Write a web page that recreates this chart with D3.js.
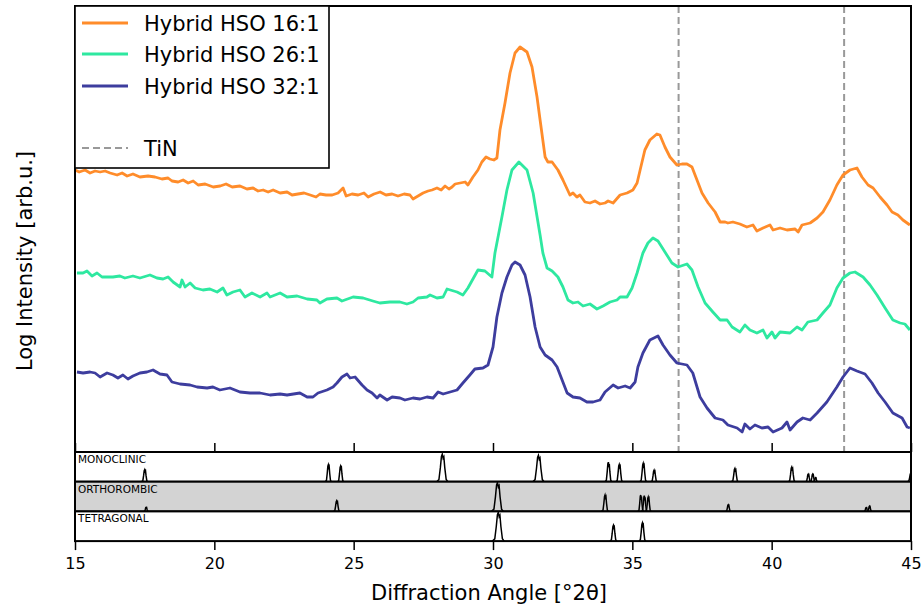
<!DOCTYPE html>
<html>
<head>
<meta charset="utf-8">
<script src="https://cdn.jsdelivr.net/npm/d3@7"></script>
<style>
  body { margin: 0; background: #fff; }
  text { font-family: "DejaVu Sans", sans-serif; fill: #000; }
</style>
</head>
<body>
<div class="graph"></div>
<script>
// [2theta, log intensity (arb.u., offset per sample)]
let hso16 = [
  [15.00,282],[15.15,280],[15.36,282],[15.54,279],[15.72,281],[15.90,280],[16.08,281],[16.26,279],[16.51,277],[16.69,279],
  [16.87,276],[17.08,278],[17.33,275],[17.62,276],[17.87,275],[18.12,273],[18.34,274],[18.48,271],[18.70,270],[18.88,272],
  [19.06,269],[19.24,271],[19.42,267],[19.67,268],[19.96,265],[20.21,266],[20.42,268],[20.64,265],[20.92,266],[21.17,263],
  [21.39,264],[21.57,261],[21.75,262],[21.93,260],[22.11,262],[22.36,259],[22.61,260],[22.79,257],[23.00,258],[23.22,259],
  [23.44,257],[23.65,255],[23.79,258],[24.01,257],[24.23,257],[24.44,259],[24.62,264],[24.73,256],[24.94,258],[25.16,257],
  [25.37,259],[25.52,255],[25.73,258],[25.95,260],[26.16,257],[26.38,258],[26.59,256],[26.81,258],[27.02,257],[27.13,253],
  [27.31,256],[27.49,259],[27.67,261],[27.81,262],[27.99,264],[28.14,262],[28.28,266],[28.42,263],[28.53,265],[28.64,268],
  [28.82,269],[29.00,270],[29.10,267],[29.28,275],[29.46,282],[29.60,290],[29.75,295],[29.89,293],[30.03,292],[30.14,294],
  [30.25,322],[30.43,349],[30.61,379],[30.79,399],[30.97,405],[31.22,400],[31.40,385],[31.58,355],[31.69,332],[31.87,295],
  [31.97,290],[32.12,290],[32.33,282],[32.51,272],[32.76,257],[32.87,259],[33.01,255],[33.12,257],[33.30,250],[33.48,249],
  [33.66,251],[33.84,248],[34.02,249],[34.13,251],[34.31,249],[34.56,257],[34.81,259],[35.02,262],[35.17,269],[35.28,282],
  [35.45,302],[35.63,312],[35.88,318],[35.99,317],[36.17,305],[36.35,295],[36.60,287],[36.78,288],[36.96,288],[37.14,285],
  [37.32,272],[37.50,259],[37.72,249],[37.97,240],[38.15,230],[38.33,230],[38.43,229],[38.61,230],[38.86,228],[39.11,225],
  [39.33,227],[39.47,221],[39.69,224],[39.94,227],[40.05,222],[40.30,224],[40.55,222],[40.84,223],[40.95,220],[41.09,227],
  [41.38,229],[41.63,234],[41.84,240],[42.09,252],[42.34,267],[42.56,277],[42.81,282],[43.06,284],[43.24,275],[43.46,267],
  [43.64,264],[43.89,255],[44.14,247],[44.32,240],[44.53,237],[44.71,232],[44.96,227]
]

let hso26 = [
  [15.07,179],[15.29,179],[15.43,181],[15.61,176],[15.79,179],[15.97,175],[16.36,175],[16.61,176],[16.79,174],[17.08,176],
  [17.33,174],[17.69,177],[17.94,174],[18.16,173],[18.34,175],[18.52,170],[18.77,165],[18.84,172],[18.95,165],[19.13,169],
  [19.31,164],[19.59,162],[19.84,163],[20.10,160],[20.31,164],[20.45,157],[20.67,160],[20.92,162],[21.10,155],[21.35,159],
  [21.64,155],[21.89,159],[22.00,155],[22.36,159],[22.61,155],[22.97,156],[23.33,153],[23.68,152],[23.79,149],[24.04,153],
  [24.40,154],[24.58,151],[24.98,155],[25.34,154],[25.69,151],[25.94,149],[26.30,150],[26.66,150],[26.91,148],[27.13,150],
  [27.31,154],[27.63,155],[27.74,157],[27.99,154],[28.21,155],[28.35,163],[28.71,160],[28.92,157],[29.10,164],[29.46,182],
  [29.71,181],[29.96,175],[30.07,199],[30.32,235],[30.50,262],[30.68,282],[30.93,290],[31.22,282],[31.44,259],[31.69,217],
  [31.79,199],[31.94,184],[32.12,181],[32.33,175],[32.51,165],[32.69,152],[32.87,149],[33.05,150],[33.23,146],[33.48,148],
  [33.73,143],[33.95,146],[34.20,150],[34.45,152],[34.56,155],[34.81,155],[34.99,164],[35.17,179],[35.38,199],[35.56,209],
  [35.74,214],[35.92,211],[36.17,200],[36.42,189],[36.64,185],[36.96,188],[37.14,182],[37.36,165],[37.61,149],[37.89,140],
  [38.15,132],[38.40,132],[38.58,125],[38.86,120],[39.04,127],[39.22,122],[39.47,119],[39.69,122],[39.83,114],[40.01,120],
  [40.12,114],[40.30,120],[40.66,119],[40.91,125],[41.09,122],[41.30,130],[41.63,132],[41.84,139],[42.09,147],[42.34,164],
  [42.56,174],[42.81,179],[42.99,180],[43.28,175],[43.53,167],[43.78,157],[44.07,144],[44.35,132],[44.61,129],[44.78,128],
  [44.96,122]
]

let hso32 = [
  [15.07,80],[15.29,79],[15.54,80],[15.72,79],[15.90,75],[16.15,79],[16.36,77],[16.54,74],[16.72,77],[16.90,73],
  [17.08,76],[17.33,79],[17.58,80],[17.80,82],[18.05,78],[18.30,77],[18.48,70],[18.77,68],[19.13,67],[19.38,65],
  [19.74,64],[19.95,65],[20.20,62],[20.56,64],[20.92,60],[21.28,59],[21.64,59],[22.00,57],[22.36,58],[22.61,57],
  [23.07,59],[23.33,55],[23.54,55],[23.72,59],[24.04,62],[24.26,65],[24.40,69],[24.58,75],[24.76,78],[24.87,74],
  [25.05,75],[25.30,67],[25.48,62],[25.66,59],[25.84,54],[25.94,57],[26.20,52],[26.38,55],[26.66,54],[26.84,52],
  [27.13,54],[27.38,53],[27.63,55],[27.85,54],[28.03,60],[28.21,58],[28.46,60],[28.71,62],[28.92,69],[29.17,77],
  [29.35,83],[29.64,84],[29.82,87],[30.00,105],[30.14,135],[30.32,159],[30.50,175],[30.68,187],[30.79,190],[30.97,187],
  [31.15,177],[31.33,155],[31.51,125],[31.69,105],[31.87,97],[32.12,92],[32.30,85],[32.48,72],[32.66,59],[32.87,55],
  [33.12,54],[33.37,50],[33.59,50],[33.84,52],[34.02,60],[34.31,67],[34.49,64],[34.74,66],[34.92,64],[35.10,70],
  [35.20,85],[35.38,99],[35.63,112],[35.92,116],[36.10,107],[36.35,97],[36.60,89],[36.96,87],[37.17,79],[37.43,55],
  [37.68,44],[37.97,34],[38.25,32],[38.43,27],[38.76,24],[38.94,20],[39.04,28],[39.22,23],[39.40,27],[39.65,24],
  [39.87,25],[40.05,20],[40.37,24],[40.55,30],[40.66,22],[40.91,30],[41.12,34],[41.38,32],[41.63,39],[41.98,50],
  [42.34,65],[42.56,75],[42.81,84],[43.06,81],[43.35,78],[43.60,69],[43.82,59],[44.07,50],[44.35,39],[44.68,34],
  [44.86,25],[44.96,24]
]

let seriesNames = ['Hybrid HSO 16:1', 'Hybrid HSO 26:1', 'Hybrid HSO 32:1']
let tinLines = [36.66, 42.6]

// reference patterns: [2theta, relative height, half width]
let monoclinic = [
  [17.50,0.42,0.11],[24.09,0.59,0.11],[24.53,0.54,0.11],[28.18,0.96,0.2],[31.63,0.92,0.2],
  [34.14,0.68,0.12],[34.53,0.60,0.12],[35.39,0.64,0.12],[35.78,0.40,0.11],[38.68,0.46,0.12],
  [40.72,0.51,0.12],[41.31,0.26,0.09],[41.47,0.26,0.09],[41.57,0.14,0.08],[44.99,0.29,0.11]
]
let orthorhombic = [
  [17.55,0.14,0.08],[24.39,0.37,0.11],[30.16,1.00,0.21],[34.02,0.57,0.12],[35.30,0.57,0.1],
  [35.43,0.55,0.1],[35.57,0.50,0.1],[38.44,0.23,0.09],[43.39,0.13,0.08],[43.51,0.18,0.08]
]
let tetragonal = [
  [30.19,1.00,0.21],[34.32,0.55,0.12],[35.36,0.63,0.12]
]
let phaseNames = ['MONOCLINIC', 'ORTHOROMBIC', 'TETRAGONAL']
let xTicks = [15, 20, 25, 30, 35, 40, 45]

let svgWidth = 924
let svgHeight = 605
let plot = { left: 75, right: 911, top: 6, bottom: 452 }
let panelH = 29.7
let colors = ['#ff8c2a', '#2ee8a0', '#3d3d9e']

let svg = d3.select('.graph')
  .append('svg')
  .attr('width', svgWidth)
  .attr('height', svgHeight)

let xScale = d3.scaleLinear().domain([15, 45]).range([plot.left, plot.right])
let yScale = d3.scaleLinear().domain([0, 446]).range([plot.bottom, plot.top])

svg.append('clipPath').attr('id', 'main-clip')
  .append('rect')
  .attr('x', plot.left).attr('y', plot.top)
  .attr('width', plot.right - plot.left).attr('height', plot.bottom - plot.top)

// TiN reference lines
svg.append('g').selectAll('line')
  .data(tinLines)
  .join('line')
  .attr('x1', d => xScale(d)).attr('x2', d => xScale(d))
  .attr('y1', plot.top).attr('y2', plot.bottom)
  .attr('stroke', '#999').attr('stroke-width', 2)
  .attr('stroke-dasharray', '7,4')

let valueLine = d3.line()
  .x(d => xScale(d[0]))
  .y(d => yScale(d[1]))

svg.append('g').attr('clip-path', 'url(#main-clip)')
  .selectAll('path')
  .data([hso16, hso26, hso32])
  .join('path')
  .attr('d', valueLine)
  .attr('fill', 'none')
  .attr('stroke', (d, i) => colors[i])
  .attr('stroke-width', 2.8)
  .attr('stroke-linejoin', 'round')

// main frame
svg.append('rect')
  .attr('x', plot.left).attr('y', plot.top)
  .attr('width', plot.right - plot.left).attr('height', plot.bottom - plot.top)
  .attr('fill', 'none').attr('stroke', '#000').attr('stroke-width', 2)

// inward ticks on the main plot
let innerAxis = svg.append('g')
  .attr('transform', `translate(0,${plot.bottom})`)
  .call(d3.axisBottom(xScale).tickValues(xTicks).tickSize(-9).tickFormat(''))
innerAxis.select('.domain').remove()
innerAxis.selectAll('line').attr('stroke', '#000').attr('stroke-width', 1.5)

// phase panels
let profileX = [-1, -0.6, -0.35, -0.15, 0, 0.15, 0.28, 0.45, 0.7, 1]
let profileY = [0, 0.08, 0.5, 0.92, 1, 0.85, 0.9, 0.5, 0.08, 0]

let panels = [monoclinic, orthorhombic, tetragonal]
panels.forEach((peaks, i) => {
  let top = plot.bottom + i * panelH
  let bottom = top + panelH
  let py = d3.scaleLinear().domain([0, 1]).range([bottom, top + 1])

  svg.append('clipPath').attr('id', 'panel-clip-' + i)
    .append('rect')
    .attr('x', plot.left).attr('y', top)
    .attr('width', plot.right - plot.left).attr('height', panelH)

  svg.append('rect')
    .attr('x', plot.left).attr('y', top)
    .attr('width', plot.right - plot.left).attr('height', panelH)
    .attr('fill', i == 1 ? '#d3d3d3' : '#fff')

  let peakLine = d3.line()
    .x(d => xScale(d[0]))
    .y(d => py(d[1]))

  svg.append('g').attr('clip-path', `url(#panel-clip-${i})`)
    .selectAll('path')
    .data(peaks)
    .join('path')
    .attr('d', p => peakLine(profileX.map((o, k) => [p[0] + o * p[2], p[1] * profileY[k]])))
    .attr('fill', 'none')
    .attr('stroke', '#000')
    .attr('stroke-width', 1.5)

  svg.append('rect')
    .attr('x', plot.left).attr('y', top)
    .attr('width', plot.right - plot.left).attr('height', panelH)
    .attr('fill', 'none').attr('stroke', '#000').attr('stroke-width', 2)

  svg.append('text')
    .attr('x', plot.left + 3).attr('y', top + 11)
    .attr('font-size', '10.5px')
    .text(phaseNames[i])
})

// x axis below the panels
let axisY = plot.bottom + 3 * panelH
let xAxis = svg.append('g')
  .attr('transform', `translate(0,${axisY})`)
  .call(d3.axisBottom(xScale).tickValues(xTicks).tickSize(9).tickPadding(8).tickFormat(d3.format('d')))
xAxis.select('.domain').remove()
xAxis.selectAll('line').attr('stroke', '#000').attr('stroke-width', 1.5)
xAxis.selectAll('text').attr('font-size', '16px').attr('font-family', '"DejaVu Sans", sans-serif').attr('fill', '#000')

svg.append('text')
  .attr('x', 489).attr('y', 600)
  .attr('text-anchor', 'middle')
  .attr('font-size', '21px')
  .text('Diffraction Angle [°2θ]')

svg.append('text')
  .attr('transform', 'translate(32,261) rotate(-90)')
  .attr('text-anchor', 'middle')
  .attr('font-size', '21px')
  .text('Log Intensity [arb.u.]')

// legend
let legend = svg.append('g')
legend.append('rect')
  .attr('x', 75).attr('y', 6).attr('width', 254).attr('height', 162)
  .attr('fill', '#fff').attr('stroke', '#000').attr('stroke-width', 1.6)

let legendRows = [23, 54, 86]
seriesNames.forEach((name, i) => {
  legend.append('line')
    .attr('x1', 82).attr('x2', 128)
    .attr('y1', legendRows[i]).attr('y2', legendRows[i])
    .attr('stroke', colors[i]).attr('stroke-width', 3)
  legend.append('text')
    .attr('x', 144).attr('y', legendRows[i] + 7.5)
    .attr('font-size', '21px')
    .text(name)
})
legend.append('line')
  .attr('x1', 82).attr('x2', 128)
  .attr('y1', 148).attr('y2', 148)
  .attr('stroke', '#999').attr('stroke-width', 2)
  .attr('stroke-dasharray', '7,4')
legend.append('text')
  .attr('x', 144).attr('y', 156)
  .attr('font-size', '21px')
  .text('TiN')
</script>
</body>
</html>
